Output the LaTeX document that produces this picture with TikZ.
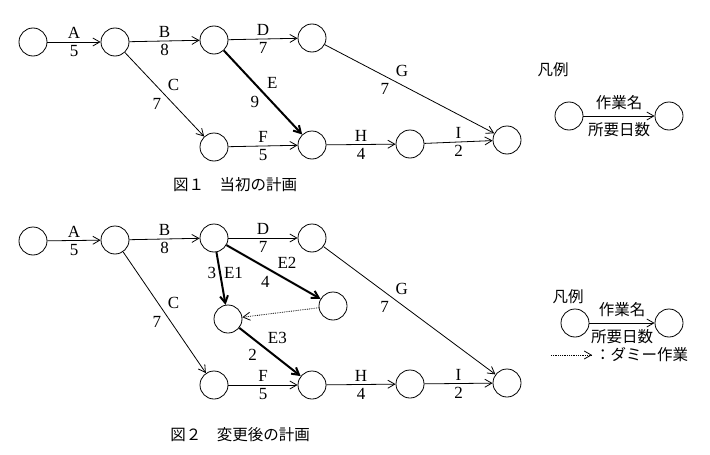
\documentclass[tikz,border=0pt]{standalone}
\usepackage{fontspec}
\setmainfont{Liberation Serif}
\newfontfamily\jp{Noto Sans CJK JP}
\usetikzlibrary{arrows.meta,positioning}
\tikzset{
    ev/.style={draw,circle,minimum size=28pt,inner sep=0pt,thick},
    job/.style={-{Straight Barb[length=7pt,width=8pt]},thick},
    crit/.style={job,line width=2pt},
    dummy/.style={job,densely dotted},
    lbl/.style={font=\fontsize{17}{19}\selectfont,inner sep=3pt},
    jlbl/.style={font=\jp\fontsize{15.5}{18}\selectfont,inner sep=3pt},
    leg/.style={jlbl,inner sep=6pt},
}
\begin{document}
\begin{tikzpicture}[x=1pt,y=-1pt]
    \useasboundingbox (0,0) rectangle (710,455);
    % --- figure 1
    \node[ev] (a1) at (33,42)  {};
    \node[ev] (a2) at (115,42) {};
    \node[ev] (a3) at (214,40) {};
    \node[ev] (a4) at (312,38) {};
    \node[ev] (a5) at (214,147) {};
    \node[ev] (a6) at (312,145) {};
    \node[ev] (a7) at (410,144) {};
    \node[ev] (a8) at (507,140) {};
    \foreach \From/\To/\Name/\Days in {a1/a2/A/5, a2/a3/B/8, a3/a4/D/7,
                                       a5/a6/F/5, a6/a7/H/4, a7/a8/I/2}
        \draw[job] (\From) -- node[lbl,above] {\Name} node[lbl,below] {\Days} (\To);
    \draw[job]  (a2) -- node[lbl,above right] {C} node[lbl,below left] {7} (a5);
    \draw[crit] (a3) -- node[lbl,above right] {E} node[lbl,below left] {9} (a6);
    \draw[job]  (a4) -- node[lbl,above right,pos=.4] {G} node[lbl,below left,pos=.4] {7} (a8);
    \node[jlbl] (cap1) at (235,185) {図１\quad 当初の計画};
    % legend 1
    \node[jlbl] (leg1) at (553,70) {凡例};
    \node[ev] (l1a) at (569,116) {};
    \node[ev] (l1b) at (669,116) {};
    \draw[job] (l1a) -- node[leg,above] {作業名} node[leg,below] {所要日数} (l1b);
    % --- figure 2
    \node[ev] (b1) at (33,241)  {};
    \node[ev] (b2) at (115,240) {};
    \node[ev] (b3) at (214,238) {};
    \node[ev] (b4) at (312,238) {};
    \node[ev] (b9) at (333,306) {};
    \node[ev] (b0) at (228,319) {};
    \node[ev] (b5) at (214,385) {};
    \node[ev] (b6) at (312,385) {};
    \node[ev] (b7) at (410,384) {};
    \node[ev] (b8) at (507,383) {};
    \foreach \From/\To/\Name/\Days in {b1/b2/A/5, b2/b3/B/8, b3/b4/D/7,
                                       b5/b6/F/5, b6/b7/H/4, b7/b8/I/2}
        \draw[job] (\From) -- node[lbl,above] {\Name} node[lbl,below] {\Days} (\To);
    \draw[job]  (b2) -- node[lbl,above right] {C} node[lbl,below left] {7} (b5);
    \draw[crit] (b3) -- node[lbl,right,pos=.4] {E1} node[lbl,left,pos=.4] {3} (b0);
    \draw[crit] (b3) -- node[lbl,above right] {E2} node[lbl,below left] {4} (b9);
    \draw[crit] (b0) -- node[lbl,above right,pos=.4] {E3} node[lbl,below left,pos=.35] {2} (b6);
    \draw[dummy] (b9) -- (b0);
    \draw[job]  (b4) -- node[lbl,above right,pos=.4] {G} node[lbl,below left,pos=.4] {7} (b8);
    \node[jlbl] (cap2) at (240,435) {図２\quad 変更後の計画};
    % legend 2
    \node[jlbl] (leg2) at (568,297) {凡例};
    \node[ev] (l2a) at (575,323) {};
    \node[ev] (l2b) at (669,323) {};
    \draw[job] (l2a) -- node[leg,above] {作業名} node[leg,below] {所要日数} (l2b);
    \coordinate (d1) at (551,355);
    \coordinate (d2) at (592,355);
    \draw[dummy] (d1) -- (d2);
    \node[jlbl,anchor=west] (dtxt) at (d2) {：ダミー作業};
\end{tikzpicture}
\end{document}
